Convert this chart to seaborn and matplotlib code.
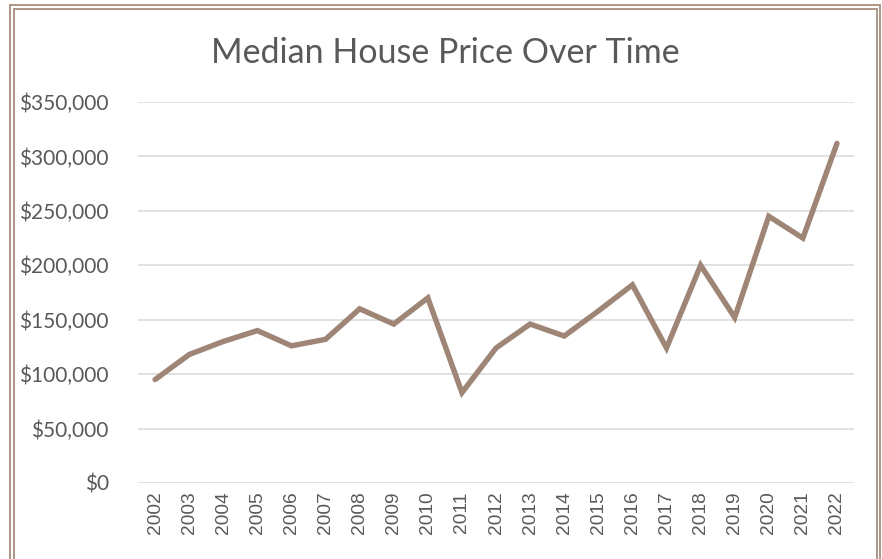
import numpy as np
import pandas as pd
import seaborn as sns
import matplotlib.pyplot as plt
from matplotlib.patches import Rectangle
from matplotlib.ticker import FuncFormatter

years = [2002, 2003, 2004, 2005, 2006, 2007, 2008, 2009, 2010, 2011, 2012,
         2013, 2014, 2015, 2016, 2017, 2018, 2019, 2020, 2021, 2022]
prices = [95000, 118000, 130000, 140000, 126000, 132000, 160000, 146000, 170000, 83000, 124000,
          146000, 135000, 158000, 182000, 124000, 200000, 152000, 245000, 225000, 312000]
y_ticks = [0, 50000, 100000, 150000, 200000, 250000, 300000, 350000]

df = pd.DataFrame({"year": years, "price": prices})

sns.set_style("white")
plt.rcParams["font.family"] = ["Lato", "DejaVu Sans"]

text_col = "#595959"
line_col = "#9E8576"
frame_col = "#A88E7E"

fig = plt.figure(figsize=(8.82, 5.59), dpi=100)
ax = fig.add_axes([0.1565, 0.1360, 0.8118, 0.6815])

sns.lineplot(data=df, x="year", y="price", ax=ax, color=line_col, linewidth=3.9,
             solid_joinstyle="miter", zorder=3)

ax.set_xlim(years[0] - 0.5, years[-1] + 0.5)
ax.set_ylim(0, 350000)
ax.set_yticks(y_ticks)
ax.set_xticks(years)
ax.yaxis.set_major_formatter(FuncFormatter(lambda v, p: f"${v:,.0f}"))
ax.set_xticklabels([str(y) for y in years], rotation=90, family="Liberation Sans",
                   fontsize=13.8, color=text_col)
ax.tick_params(axis="y", labelsize=15, labelcolor=text_col, length=0, pad=21)
ax.tick_params(axis="x", length=0, pad=6)
ax.grid(axis="y", color="#D9D9D9", linewidth=1.1)
ax.grid(axis="x", visible=False)
for s in ax.spines.values():
    s.set_visible(False)
ax.set_xlabel("")
ax.set_ylabel("")

fig.text(0.505, 0.905, "Median House Price Over Time", ha="center", va="center",
         fontsize=24.5, color=text_col)

# double border round the chart (bottom edge cut off)
for x0, y0, x1 in [(9.5, 5, 880), (13.5, 9, 877)]:
    fig.patches.append(Rectangle((x0 / 882, -0.05), (x1 - x0) / 882, 1.05 - y0 / 559,
                                 transform=fig.transFigure, fill=False,
                                 edgecolor=frame_col, linewidth=1.3))

fig.savefig("out.png", dpi=100)
